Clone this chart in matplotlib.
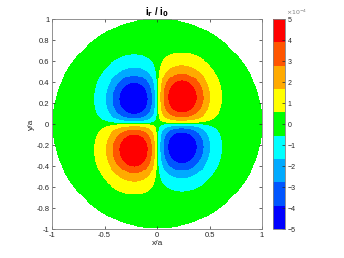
import numpy as np
import matplotlib.pyplot as plt
from matplotlib.colors import ListedColormap

# lobes of i_r/i_0: centre (x/a, y/a), peak (x1e-4), spread
lobe_x = [0.23, -0.22, -0.22, 0.23]
lobe_y = [0.25, 0.23, -0.25, -0.22]
lobe_peak = [5.3, -5.3, 5.3, -5.3]
lobe_spread_x = [0.18, 0.18, 0.18, 0.18]
lobe_spread_y = [0.20, 0.20, 0.20, 0.20]
axis_gap = 0.035

band_colors = ['#0000ff', '#0055ff', '#00aaff', '#00ffff', '#00ff00',
               '#ffff00', '#ffaa00', '#ff5500', '#ff0000']
cbar_ticks = [-5, -4, -3, -2, -1, 0, 1, 2, 3, 4, 5]
xticks = [-1, -0.5, 0, 0.5, 1]
yticks = [-1, -0.8, -0.6, -0.4, -0.2, 0, 0.2, 0.4, 0.6, 0.8, 1]

plt.rcParams['font.family'] = ['Liberation Sans', 'DejaVu Sans']
grey = '#262626'

n = 220
g = np.linspace(-1, 1, n)
X, Y = np.meshgrid(g, g)
taper = (1 - np.exp(-np.abs(X) / axis_gap)) * (1 - np.exp(-np.abs(Y) / axis_gap))
Z = np.zeros_like(X)
for cx, cy, p, sx, sy in zip(lobe_x, lobe_y, lobe_peak, lobe_spread_x, lobe_spread_y):
    quad = (np.sign(X) == np.sign(cx)) & (np.sign(Y) == np.sign(cy))
    Z += quad * p * np.exp(-(X - cx)**2 / (2 * sx**2) - (Y - cy)**2 / (2 * sy**2)) * taper
Z[X**2 + Y**2 > 1] = np.nan

fig = plt.figure(figsize=(3.44, 2.58), dpi=100)
ax = fig.add_axes([0.151, 0.112, 0.611, 0.814])
cmap = ListedColormap(band_colors)
im = ax.imshow(Z, extent=[-1, 1, -1, 1], origin='lower', cmap=cmap,
               vmin=-5, vmax=5, interpolation='nearest')
ax.set_xlim(-1, 1)
ax.set_ylim(-1, 1)
ax.set_aspect('equal')
ax.set_xticks(xticks)
ax.set_xticklabels(['-1', '-0.5', '0', '0.5', '1'])
ax.set_yticks(yticks)
ax.set_yticklabels(['-1', '-0.8', '-0.6', '-0.4', '-0.2', '0', '0.2', '0.4', '0.6', '0.8', '1'])
ax.tick_params(direction='in', length=2.5, width=0.5, labelsize=5.5,
               colors=grey, top=True, right=True, pad=2)
for sp in ax.spines.values():
    sp.set_color('#808080')
    sp.set_linewidth(0.6)
ax.set_xlabel('x/a', fontsize=6, color=grey, labelpad=1)
ax.set_ylabel('y/a', fontsize=6, color=grey, labelpad=1)
ax.set_title(r'i$_\mathbf{r}$ / i$_\mathbf{0}$', fontsize=7, fontweight='bold', pad=3)

cax = fig.add_axes([0.794, 0.112, 0.035, 0.814])
cb = fig.colorbar(im, cax=cax, ticks=cbar_ticks)
cb.ax.tick_params(direction='in', length=2, width=0.5, labelsize=5, colors=grey, pad=2)
cb.outline.set_edgecolor('#808080')
cb.outline.set_linewidth(0.6)
cax.text(1.05, 1.012, r'$\times10^{-4}$', transform=cax.transAxes, fontsize=4.5,
         color='#808080', va='bottom', ha='left')

fig.savefig('out.png', dpi=100)
